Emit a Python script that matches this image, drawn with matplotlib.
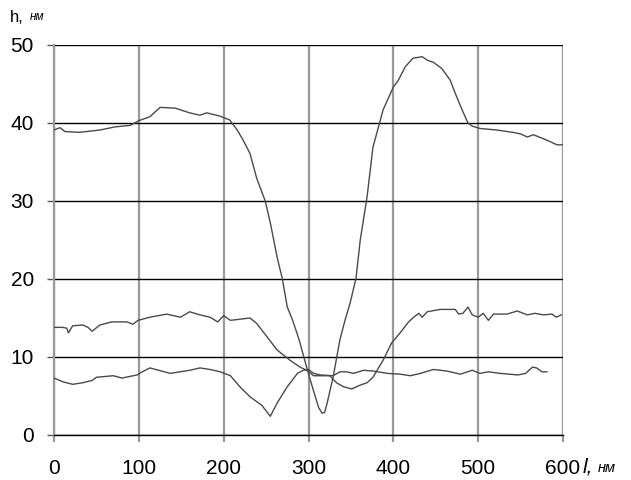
import numpy as np
import matplotlib.pyplot as plt

# большая кривая
x_a = [0, 7, 13, 30, 54, 72, 90, 100, 113, 125, 143, 160, 172, 180, 195, 207, 216, 223, 231, 239,
       249, 255, 263, 269, 275, 281, 289, 298, 305, 312, 316, 319, 322, 329, 337, 343, 349, 356,
       361, 369, 376, 388, 400, 406, 414, 423, 434, 441, 447, 457, 467, 473, 481, 488, 493, 502,
       522, 541, 550, 558, 565, 581, 593, 600]
y_a = [39.1, 39.4, 38.9, 38.8, 39.1, 39.5, 39.7, 40.3, 40.8, 42.0, 41.9, 41.3, 41.0, 41.3, 40.9,
       40.4, 39.1, 37.8, 36.1, 32.9, 30.0, 27.2, 22.8, 20.1, 16.4, 14.8, 12.2, 8.6, 6.0,
       3.5, 2.8, 2.9, 4.1, 7.4, 12.2, 14.7, 16.9, 20.1, 25.0, 30.5, 36.9, 41.7, 44.6, 45.5, 47.2, 48.3,
       48.5, 48.0, 47.8, 47.0, 45.5, 43.8, 41.7, 40.0, 39.6, 39.3, 39.1, 38.8, 38.6, 38.2, 38.5,
       37.8, 37.2, 37.2]

# средняя кривая
x_b = [0, 10, 15, 17, 22, 34, 40, 45, 54, 68, 86, 93, 99, 113, 123, 133, 149, 160, 172, 184,
       193, 200, 208, 231, 239, 251, 263, 278, 290, 298, 306, 325, 333, 341, 351, 361, 369, 376,
       388, 398, 408, 418, 424, 430, 434, 440, 455, 473, 477, 482, 488, 493, 500, 506, 512, 518,
       534, 546, 558, 567, 577, 587, 592, 598]
y_b = [13.8, 13.8, 13.7, 13.1, 14.0, 14.1, 13.8, 13.3, 14.1, 14.5, 14.5, 14.2, 14.7, 15.1, 15.3,
       15.5, 15.1, 15.8, 15.4, 15.1, 14.5, 15.3, 14.7, 15.0, 14.3, 12.6, 10.9, 9.6, 8.7, 8.3, 7.6,
       7.6, 6.7, 6.2, 5.9, 6.4, 6.7, 7.4, 9.6, 11.8, 13.1, 14.5, 15.1, 15.6, 15.1, 15.8, 16.1,
       16.1, 15.5, 15.6, 16.4, 15.4, 15.1, 15.6, 14.7, 15.5, 15.5, 15.9, 15.4, 15.6, 15.4, 15.5,
       15.1, 15.4]

# нижняя кривая
x_c = [0, 11, 22, 34, 45, 50, 70, 80, 98, 104, 113, 137, 160, 172, 184, 196, 208, 219, 231, 245,
       255, 263, 275, 287, 294, 300, 306, 314, 329, 337, 345, 353, 365, 376, 393, 408, 420, 432,
       447, 463, 479, 493, 502, 512, 526, 547, 556, 564, 569, 575, 581]
y_c = [7.3, 6.8, 6.5, 6.7, 7.0, 7.4, 7.6, 7.3, 7.7, 8.1, 8.6, 7.9, 8.3, 8.6, 8.4, 8.1, 7.6, 6.2,
       4.9, 3.8, 2.4, 4.1, 6.2, 7.9, 8.3, 8.4, 7.9, 7.7, 7.6, 8.1, 8.1, 7.9, 8.3, 8.2, 7.9, 7.8,
       7.6, 7.9, 8.4, 8.2, 7.8, 8.3, 7.9, 8.1, 7.9, 7.7, 7.9, 8.7, 8.6, 8.1, 8.1]

x_ticks = [0, 100, 200, 300, 400, 500, 600]
y_ticks = [0, 10, 20, 30, 40, 50]

plt.rcParams['font.family'] = ['Liberation Sans', 'DejaVu Sans']

fig = plt.figure(figsize=(6.31, 4.8), dpi=100)
ax = fig.add_axes([54/631, 45/480, 509/631, 390/480])

for xs, ys in [(x_a, y_a), (x_b, y_b), (x_c, y_c)]:
    ax.plot(xs, ys, color='#4a4a4a', lw=1.0, zorder=3)

ax.set_xlim(0, 600)
ax.set_ylim(0, 50)
ax.set_xticks(x_ticks)
ax.set_yticks(y_ticks)
ax.tick_params(labelsize=15, length=5)
ax.tick_params(axis='x', pad=12)
ax.tick_params(axis='y', pad=9.5)

# сетка: вертикальные серые, горизонтальные чёрные
for xv in x_ticks:
    ax.axvline(xv, color='#999999', lw=1.6, zorder=1)
for yv in y_ticks:
    ax.axhline(yv, color='black', lw=1.0, zorder=2)

for s in ['top', 'right']:
    ax.spines[s].set_visible(False)
ax.spines['left'].set_color('#999999')
ax.spines['left'].set_linewidth(1.6)
ax.spines['bottom'].set_linewidth(1.0)
ax.tick_params(axis='x', color='#999999', width=1.6)
ax.tick_params(axis='y', color='#555555', width=1.0)

fig.text(10/631, 1 - 17/480, 'h,', fontsize=12, va='center', ha='left')
fig.text(30/631, 1 - 17/480, 'нм', fontsize=8.5, style='italic', va='center', ha='left')
fig.text(583/631, 1 - 467/480, 'l,', fontsize=15, style='italic', va='center', ha='left')
fig.text(598/631, 1 - 468/480, 'нм', fontsize=10.5, style='italic', va='center', ha='left')

fig.savefig('out.png', dpi=100)
